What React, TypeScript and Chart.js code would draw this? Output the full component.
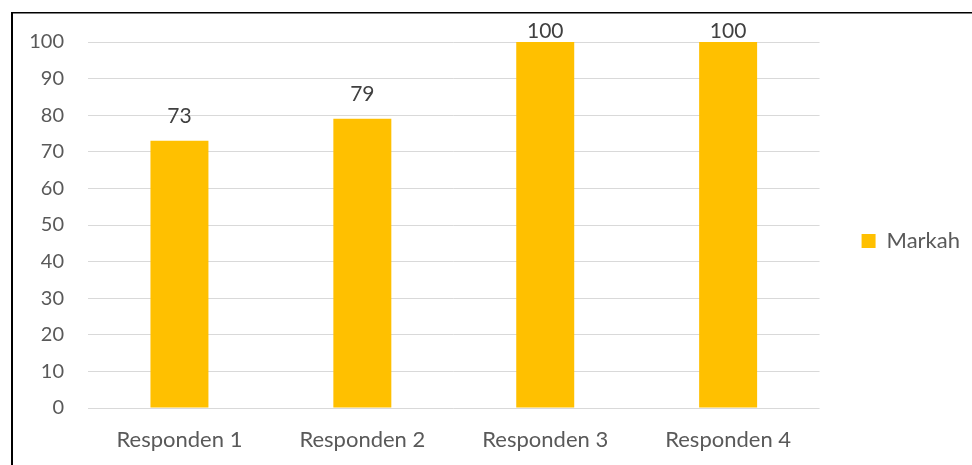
import React, { useEffect, useRef } from "react";
import { Chart, registerables } from "chart.js";

Chart.register(...registerables);

const categories = ["Responden 1", "Responden 2", "Responden 3", "Responden 4"];
const markah = [73, 79, 100, 100];
const seriesName = "Markah";
const yMin = 0;
const yMax = 100;
const yStep = 10;

const FONT = "Lato, 'Open Sans', sans-serif";
const TEXT = "#595959";

const borderPlugin = {
  id: "frameBorder",
  beforeDraw(chart: any) {
    const ctx = chart.ctx;
    ctx.save();
    ctx.fillStyle = "#ffffff";
    ctx.fillRect(0, 0, chart.width, chart.height);
    ctx.fillStyle = "#000000";
    ctx.fillRect(11, 12, 2, chart.height);
    ctx.fillRect(11, 12, chart.width, 1.5);
    ctx.restore();
  },
};

const labelPlugin = {
  id: "barValueLabels",
  afterDatasetsDraw(chart: any) {
    const ctx = chart.ctx;
    const meta = chart.getDatasetMeta(0);
    const ds = chart.data.datasets[0];
    const top = chart.chartArea.top;
    ctx.save();
    ctx.font = `21px ${FONT}`;
    ctx.fillStyle = "#404040";
    ctx.textAlign = "center";
    ctx.textBaseline = "middle";
    meta.data.forEach((bar: any, i: number) => {
      const y = Math.max(bar.y - 25, top - 11);
      ctx.fillText(String(ds.data[i]), bar.x, y);
    });
    ctx.restore();
  },
};

export default function App() {
  const ref = useRef<HTMLCanvasElement | null>(null);
  useEffect(() => {
    if (!ref.current) return;
    const chart = new Chart(ref.current, {
      type: "bar",
      data: {
        labels: categories,
        datasets: [
          {
            label: seriesName,
            data: markah,
            backgroundColor: "#FFC000",
            borderWidth: 0,
            categoryPercentage: 1,
            barPercentage: 0.317,
          },
        ],
      },
      options: {
        animation: false,
        responsive: false,
        maintainAspectRatio: false,
        layout: { padding: { left: 0, top: 17, right: 2, bottom: 0 } },
        plugins: {
          tooltip: { enabled: false },
          title: {
            display: true,
            text: "",
            font: { family: FONT, size: 20, lineHeight: 1.2 },
            padding: { top: 0, bottom: 1 },
          },
          legend: {
            position: "right",
            align: "center",
            labels: {
              boxWidth: 14,
              boxHeight: 14,
              padding: 42,
              color: TEXT,
              font: { family: FONT, size: 22 },
            },
          },
        },
        scales: {
          x: {
            grid: { display: false },
            border: { display: false },
            ticks: {
              color: TEXT,
              font: { family: FONT, size: 22 },
              padding: 11,
              maxRotation: 0,
            },
            afterFit(s: any) {
              s.height = 57;
            },
          },
          y: {
            min: yMin,
            max: yMax,
            border: { display: false },
            grid: { color: "#D9D9D9", lineWidth: 1, drawTicks: false },
            ticks: {
              stepSize: yStep,
              color: TEXT,
              font: { family: FONT, size: 20 },
              padding: 24,
            },
            afterFit(s: any) {
              s.width = 88;
            },
          },
        },
      },
      plugins: [borderPlugin, labelPlugin],
    });
    return () => chart.destroy();
  }, []);
  return (
    <div style={{ position: "absolute", left: 0, top: 0, width: 972, height: 465 }}>
      <canvas ref={ref} width={972} height={465} style={{ display: "block" }} />
    </div>
  );
}
